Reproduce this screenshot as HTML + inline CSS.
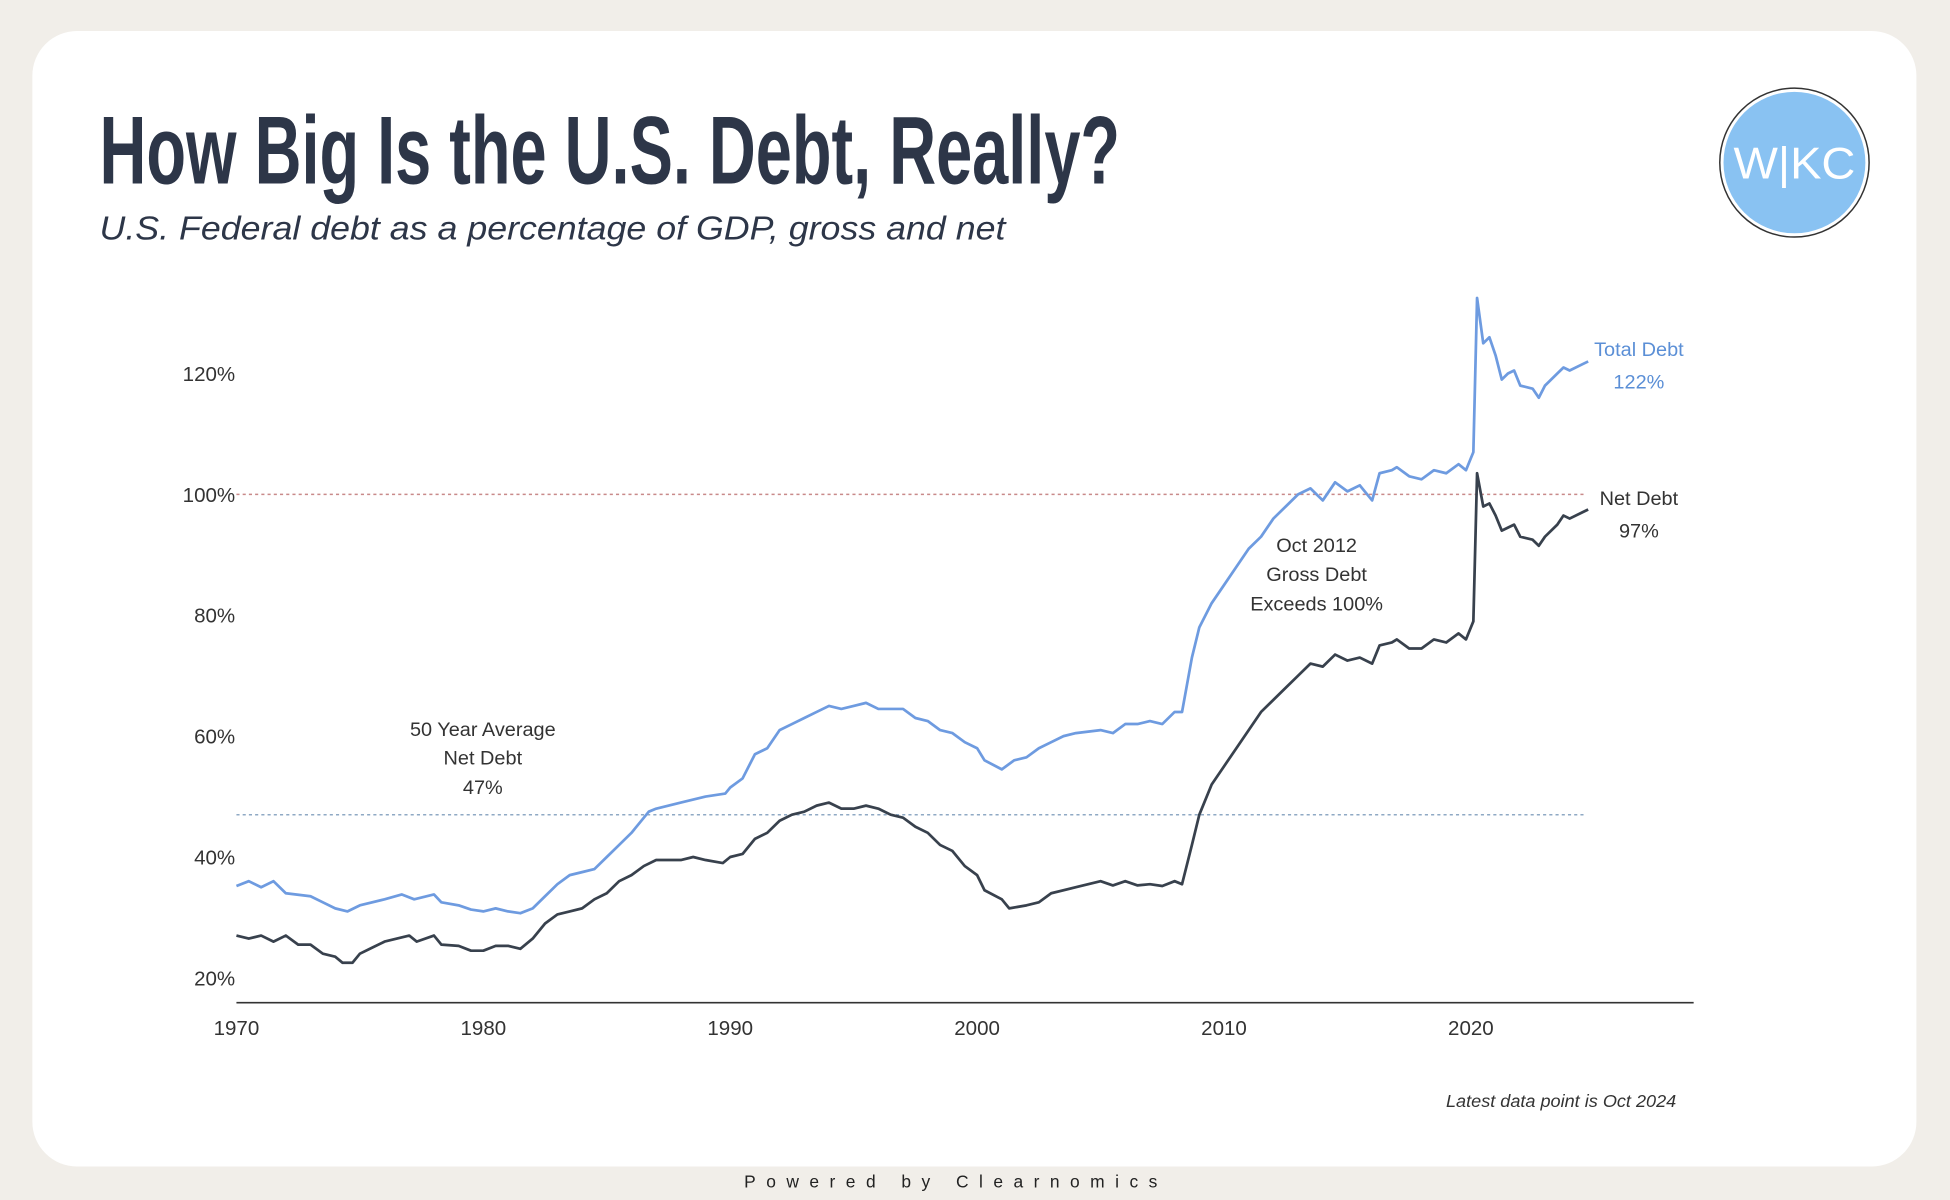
<!DOCTYPE html>
<html><head><meta charset="utf-8"><style>
html,body{margin:0;padding:0;background:#f1eee9;}
svg{display:block;}
</style></head><body>
<svg id="chart" width="1950" height="1200" viewBox="0 0 1567 967" preserveAspectRatio="none" xmlns="http://www.w3.org/2000/svg" font-family="Liberation Sans, sans-serif">
<rect x="0" y="0" width="1567" height="967" fill="#f1eee9"/>
<rect x="26" y="25" width="1514" height="915" rx="36" fill="#ffffff"/>
<text x="80" y="148" font-size="78" font-weight="bold" fill="#2d3648" transform="translate(80 0) scale(0.72 1) translate(-80 0)" textLength="1139" lengthAdjust="spacingAndGlyphs">How Big Is the U.S. Debt, Really?</text>
<text x="80" y="193" font-size="27" font-style="italic" fill="#2d3648" textLength="728" lengthAdjust="spacingAndGlyphs">U.S. Federal debt as a percentage of GDP, gross and net</text>
<g>
<circle cx="1442" cy="131" r="60" fill="none" stroke="#333" stroke-width="1.2"/>
<circle cx="1442" cy="131" r="57" fill="#89c2f2"/>
<text x="1442" y="144" font-size="36" fill="#ffffff" text-anchor="middle" textLength="98" lengthAdjust="spacingAndGlyphs">W|KC</text>
</g>
<g id="axes"></g>
<g id="marks"></g>
<g font-size="16" fill="#333" text-anchor="middle">
<text x="1317" y="287" fill="#5b8fd6">Total Debt</text>
<text x="1317" y="313" fill="#5b8fd6">122%</text>
<text x="1317" y="407">Net Debt</text>
<text x="1317" y="433">97%</text>
<text x="1058" y="445">Oct 2012</text>
<text x="1058" y="468">Gross Debt</text>
<text x="1058" y="492">Exceeds 100%</text>
<text x="388" y="593">50 Year Average</text>
<text x="388" y="616">Net Debt</text>
<text x="388" y="640">47%</text>
</g>
<text x="1347" y="892" font-size="14" font-style="italic" fill="#333" text-anchor="end" textLength="185" lengthAdjust="spacingAndGlyphs">Latest data point is Oct 2024</text>
<text x="598" y="957" font-size="14" fill="#222" textLength="332" lengthAdjust="spacing">Powered by Clearnomics</text>
</svg>
<script>
const yTicks = [20, 40, 60, 80, 100, 120];
const xTicks = [1970, 1980, 1990, 2000, 2010, 2020];
const refLines = [100, 47];
const totalDates = [1970,1970.5,1971,1971.5,1972,1973,1973.5,1974,1974.5,1975,1976,1976.7,1977.2,1978,1978.3,1979,1979.5,1980,1980.5,1981,1981.5,1982,1982.5,1983,1983.5,1984,1984.5,1985,1985.5,1986,1986.7,1987,1988,1989,1989.8,1990,1990.5,1991,1991.5,1992,1992.5,1993,1993.5,1994,1994.5,1995,1995.5,1996,1996.5,1997,1997.5,1998,1998.5,1999,1999.5,2000,2000.3,2001,2001.5,2002,2002.5,2003,2003.5,2004,2005,2005.5,2006,2006.5,2007,2007.5,2008,2008.3,2008.7,2009,2009.5,2010,2010.5,2011,2011.5,2012,2012.5,2013,2013.5,2014,2014.5,2015,2015.5,2016,2016.3,2016.8,2017,2017.5,2018,2018.5,2019,2019.5,2019.8,2020,2020.1,2020.25,2020.5,2020.75,2021,2021.25,2021.5,2021.75,2022,2022.5,2022.75,2023,2023.5,2023.75,2024,2024.5,2024.75];
const totalValues = [35.2,36,35,36,34,33.5,32.5,31.5,31,32,33,33.8,33,33.8,32.5,32,31.3,31,31.5,31,30.7,31.5,33.5,35.5,37,37.5,38,40,42,44,47.5,48,49,50,50.5,51.5,53,57,58,61,62,63,64,65,64.5,65,65.5,64.5,64.5,64.5,63,62.5,61,60.5,59,58,56,54.5,56,56.5,58,59,60,60.5,61,60.5,62,62,62.5,62,64,64,73,78,82,85,88,91,93,96,98,100,101,99,102,100.5,101.5,99,103.5,104,104.5,103,102.5,104,103.5,105,104,106,107,132.5,125,126,123,119,120,120.5,118,117.5,116,118,120,121,120.5,121.5,122];
const netDates = [1970,1970.5,1971,1971.5,1972,1972.5,1973,1973.5,1974,1974.3,1974.7,1975,1975.5,1976,1976.5,1977,1977.3,1978,1978.3,1979,1979.5,1980,1980.5,1981,1981.5,1982,1982.5,1983,1983.5,1984,1984.5,1985,1985.5,1986,1986.5,1987,1988,1988.5,1989,1989.7,1990,1990.5,1991,1991.5,1992,1992.5,1993,1993.5,1994,1994.5,1995,1995.5,1996,1996.5,1997,1997.5,1998,1998.5,1999,1999.5,2000,2000.3,2001,2001.3,2002,2002.5,2003,2004,2004.5,2005,2005.5,2006,2006.5,2007,2007.5,2008,2008.3,2008.7,2009,2009.5,2010,2010.5,2011,2011.5,2012,2012.5,2013,2013.5,2014,2014.5,2015,2015.5,2016,2016.3,2016.8,2017,2017.5,2018,2018.5,2019,2019.5,2019.8,2020,2020.1,2020.25,2020.5,2020.75,2021,2021.25,2021.5,2021.75,2022,2022.5,2022.75,2023,2023.5,2023.75,2024,2024.5,2024.75];
const netValues = [27,26.5,27,26,27,25.5,25.5,24,23.5,22.5,22.5,24,25,26,26.5,27,26,27,25.5,25.3,24.5,24.5,25.3,25.3,24.8,26.5,29,30.5,31,31.5,33,34,36,37,38.5,39.5,39.5,40,39.5,39,40,40.5,43,44,46,47,47.5,48.5,49,48,48,48.5,48,47,46.5,45,44,42,41,38.5,37,34.5,33,31.5,32,32.5,34,35,35.5,36,35.3,36,35.3,35.5,35.2,36,35.5,42,47,52,55,58,61,64,66,68,70,72,71.5,73.5,72.5,73,72,75,75.5,76,74.5,74.5,76,75.5,77,76,78,79,103.5,98,98.5,96.5,94,94.5,95,93,92.5,91.5,93,95,96.5,96,97,97.5];

const NS = 'http://www.w3.org/2000/svg';
const X0 = 190, PXY = 19.84, Y120 = 301, PXV = 4.87;
function xs(year){ return X0 + (year - 1970) * PXY; }
function ys(v){ return Y120 + (120 - v) * PXV; }
function mk(tag, attrs, parent){ const e = document.createElementNS(NS, tag); for (const k in attrs) e.setAttribute(k, attrs[k]); parent.appendChild(e); return e; }

const axes = document.getElementById('axes');
const marks = document.getElementById('marks');

yTicks.forEach(v => {
  const t = mk('text', {x: 189, y: ys(v) + 6, 'font-size': 16.5, fill: '#333', 'text-anchor': 'end'}, axes);
  
  
  t.textContent = v + '%';
});
xTicks.forEach(yr => {
  const t = mk('text', {x: xs(yr), y: 834, 'font-size': 16.5, fill: '#333', 'text-anchor': 'middle'}, axes);
  
  
  t.textContent = yr;
});
const ax = mk('line', {x1: 190, x2: 1361, y1: 808, y2: 808, stroke: '#333', 'stroke-width': 1.3}, axes);



refLines.forEach((v, i) => {
  const l = mk('line', {x1: 190, x2: 1275, y1: ys(v), y2: ys(v), stroke: i === 0 ? '#c98a8a' : '#8fa9c4', 'stroke-width': 1.2, 'stroke-dasharray': '2.5 2.5'}, axes);
  
  
});

function drawLine(dates, vals, color, name){
  const d = dates.map((yr, i) => (i ? 'L' : 'M') + xs(yr).toFixed(2) + ' ' + ys(vals[i]).toFixed(2)).join(' ');
  const p = mk('path', {d: d, fill: 'none', stroke: color, 'stroke-width': 2.2, 'stroke-linejoin': 'round'}, marks);
  
  
}
drawLine(totalDates, totalValues, '#6e9be0', 'total-debt-line');
drawLine(netDates, netValues, '#38414d', 'net-debt-line');
</script>
</body></html>
